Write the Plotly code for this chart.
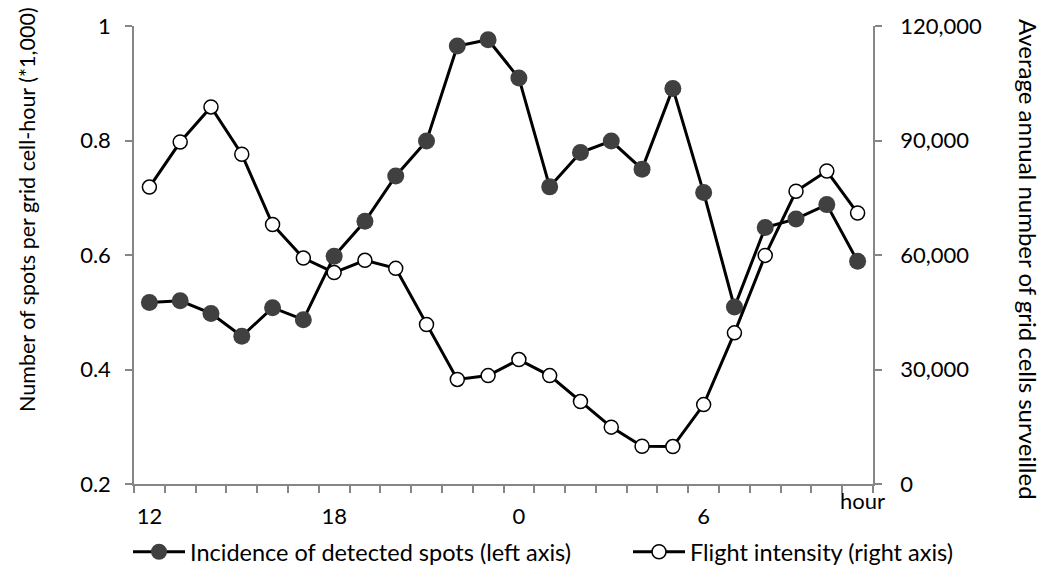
import plotly.graph_objects as go

hours = [12, 13, 14, 15, 16, 17, 18, 19, 20, 21, 22, 23, 0, 1, 2, 3, 4, 5, 6, 7, 8, 9, 10, 11]
incidence = [0.517, 0.520, 0.498, 0.458, 0.508, 0.487, 0.598, 0.659, 0.738, 0.799, 0.965, 0.976,
             0.909, 0.719, 0.779, 0.799, 0.750, 0.891, 0.709, 0.509, 0.648, 0.663, 0.688, 0.589]
flight = [77800, 89600, 98800, 86400, 68000, 59200, 55400, 58600, 56500, 41800, 27400, 28400,
          32600, 28400, 21600, 14900, 9900, 9800, 20800, 39600, 59900, 76700, 82000, 71000]
labelled_hours = [12, 18, 0, 6]
left_title = "Number of spots per grid cell-hour (*1,000)"
right_title = "Average annual number of grid cells surveilled"
name1 = "Incidence of detected spots (left axis)"
name2 = "Flight intensity (right axis)"

FONT = "Lato"
AX = "#868686"
idx = list(range(len(hours)))

fig = go.Figure()
fig.add_trace(go.Scatter(x=idx, y=incidence, name=name1, mode="lines+markers",
                         line=dict(color="black", width=3),
                         marker=dict(size=17, color="#404040", line=dict(width=0)),
                         yaxis="y", xaxis="x", legend="legend"))
fig.add_trace(go.Scatter(x=idx, y=flight, name=name2, mode="lines+markers",
                         line=dict(color="black", width=3),
                         marker=dict(size=14, color="white", line=dict(width=1.5, color="black")),
                         yaxis="y2", xaxis="x", legend="legend2"))
# invisible carrier so the label axis is drawn
fig.add_trace(go.Scatter(x=idx, y=incidence, mode="markers", marker=dict(opacity=0),
                         showlegend=False, hoverinfo="skip", xaxis="x2", yaxis="y"))

tick_pos = [idx[hours.index(h)] for h in labelled_hours]

W, H = 1050, 588
l, r, t, b = 134, 177, 26, 104
pw, ph = W - l - r, H - t - b

def ann(text, px, py, angle=0, size=20):
    return dict(text=text, textangle=angle, x=(px - l) / pw, y=1 - (py - t) / ph,
                xref="paper", yref="paper", xanchor="center", yanchor="middle",
                showarrow=False, font=dict(size=size))

def leg(px):
    return dict(orientation="h", x=(px - l) / pw, xanchor="left",
                y=1 - (552 - t) / ph, yanchor="middle", bgcolor="rgba(0,0,0,0)",
                font=dict(size=23.5), itemwidth=52)

fig.update_layout(
    width=W, height=H,
    margin=dict(l=l, r=r, t=t, b=b),
    paper_bgcolor="white", plot_bgcolor="white",
    font=dict(family=FONT, size=22, color="black"),
    showlegend=True,
    legend=leg(128),
    legend2=leg(628),
    xaxis=dict(range=[-0.5, len(hours) - 0.5], tickmode="array",
               tickvals=[i - 0.5 for i in range(len(hours) + 1)], showticklabels=False,
               ticks="outside", ticklen=7, tickcolor=AX, tickwidth=1.5,
               showline=True, linecolor=AX, linewidth=1.5, showgrid=False, zeroline=False),
    xaxis2=dict(range=[-0.5, len(hours) - 0.5], overlaying="x", anchor="y", side="bottom",
                tickmode="array", tickvals=tick_pos, ticktext=[str(h) for h in labelled_hours],
                ticks="outside", ticklen=13, tickcolor="rgba(0,0,0,0)",
                showline=False, showgrid=False, zeroline=False),
    yaxis=dict(range=[0.2, 1.0], tickmode="array", tickvals=[0.2, 0.4, 0.6, 0.8, 1.0],
               ticktext=["0.2", "0.4", "0.6", "0.8", "1"],
               ticks="outside", ticklen=7, tickcolor=AX, tickwidth=1.5,
               showline=True, linecolor=AX, linewidth=1.5, showgrid=False, zeroline=False,
               ticklabelstandoff=10),
    yaxis2=dict(range=[0, 120000], overlaying="y", side="right", anchor="x",
                tickmode="array", tickvals=[0, 30000, 60000, 90000, 120000],
                ticktext=["0", "30,000", "60,000", "90,000", "120,000"],
                ticks="outside", ticklen=7, tickcolor=AX, tickwidth=1.5,
                showline=True, linecolor=AX, linewidth=1.5, showgrid=False, zeroline=False,
                ticklabelstandoff=14),
    annotations=[
        ann(left_title, 27, 210, -90, 21.5),
        ann(right_title, 1029, 259, 90, 24),
        ann("hour", 862, 500, 0, 22),
    ],
)
fig.write_html("out.html")
